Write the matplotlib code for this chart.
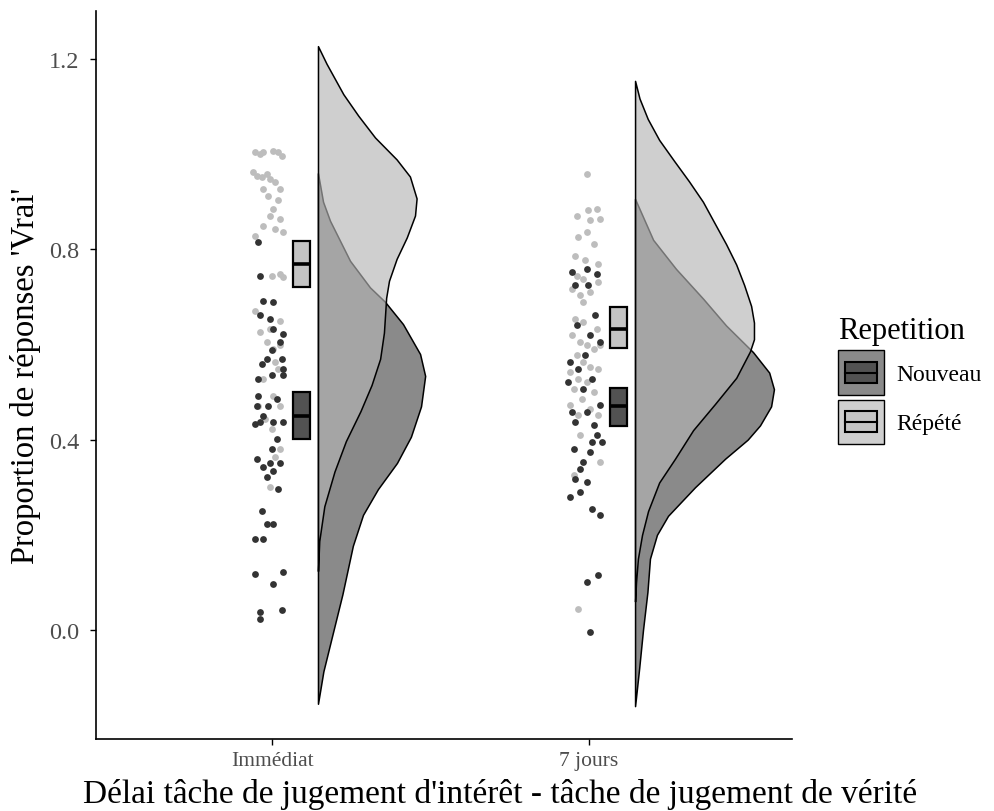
import numpy as np
import matplotlib.pyplot as plt
from matplotlib.patches import Rectangle
from matplotlib.legend_handler import HandlerBase

plt.rcParams['font.family'] = ['Liberation Serif', 'DejaVu Serif']

groupes = ['Immédiat', '7 jours']
conditions = ['Nouveau', 'Répété']

# --- points individuels (décalage horizontal, proportion 'Vrai')
imm_rep_x = [-0.054, -0.038, -0.027, 0.004, 0.020, 0.031, -0.059, -0.048, -0.033, -0.017,
             -0.006, 0.009, 0.025, -0.027, -0.012, 0.020, 0.004, -0.006, 0.025, -0.027,
             -0.054, 0.009, 0.036, -0.001, 0.025, 0.036, -0.054, 0.025, -0.006, -0.038,
             -0.017, 0.004, 0.025, 0.009, 0.020, -0.027, 0.004, -0.043, 0.025, -0.022,
             -0.001, 0.025, 0.009, -0.006]
imm_rep_y = [1.004, 1.000, 1.004, 1.007, 1.004, 0.997, 0.962, 0.955, 0.951, 0.958,
             0.948, 0.941, 0.927, 0.927, 0.913, 0.903, 0.885, 0.871, 0.864, 0.850,
             0.829, 0.843, 0.836, 0.745, 0.748, 0.741, 0.671, 0.650, 0.633, 0.626,
             0.605, 0.591, 0.598, 0.563, 0.549, 0.528, 0.492, 0.471, 0.471, 0.443,
             0.422, 0.380, 0.363, 0.300]

imm_nouv_x = [-0.043, -0.038, -0.027, 0.004, -0.038, -0.006, 0.004, 0.036, 0.025, -0.001,
              -0.017, 0.031, 0.036, -0.033, -0.001, -0.043, 0.036, -0.043, -0.048, -0.012,
              0.015, -0.027, -0.054, -0.038, 0.004, 0.036, 0.015, -0.001, -0.048, -0.006,
              -0.027, 0.025, 0.004, -0.017, 0.020, -0.033, -0.017, 0.004, -0.054, -0.027,
              -0.054, 0.036, 0.004, -0.038, -0.038, 0.031]
imm_nouv_y = [0.815, 0.745, 0.692, 0.689, 0.661, 0.654, 0.633, 0.622, 0.605, 0.588,
              0.570, 0.570, 0.549, 0.559, 0.535, 0.528, 0.535, 0.492, 0.471, 0.471,
              0.486, 0.450, 0.433, 0.437, 0.437, 0.437, 0.401, 0.380, 0.359, 0.352,
              0.342, 0.352, 0.335, 0.321, 0.296, 0.251, 0.223, 0.223, 0.191, 0.191,
              0.118, 0.121, 0.097, 0.037, 0.023, 0.041]

j7_rep_x = [-0.007, -0.039, -0.002, 0.024, 0.035, 0.003, -0.034, 0.014, -0.007, -0.044,
            -0.013, 0.029, -0.039, -0.018, 0.029, -0.055, -0.028, 0.003, -0.018, -0.044,
            -0.018, 0.024, -0.055, -0.028, -0.007, 0.014, 0.035, -0.039, -0.018, 0.003,
            -0.060, -0.034, 0.029, -0.007, -0.049, 0.014, -0.023, -0.060, 0.003, -0.034,
            0.029, -0.028, 0.035, -0.049, -0.034]
j7_rep_y = [0.958, 0.871, 0.882, 0.885, 0.864, 0.861, 0.825, 0.811, 0.836, 0.787,
            0.777, 0.769, 0.745, 0.738, 0.731, 0.717, 0.703, 0.710, 0.689, 0.654,
            0.647, 0.633, 0.619, 0.605, 0.598, 0.591, 0.598, 0.577, 0.563, 0.553,
            0.542, 0.528, 0.549, 0.521, 0.507, 0.500, 0.486, 0.472, 0.465, 0.451,
            0.451, 0.409, 0.353, 0.325, 0.044]

j7_nouv_x = [-0.055, -0.007, 0.024, -0.044, -0.002, 0.019, -0.039, 0.003, 0.035, -0.060,
             -0.013, -0.034, 0.008, -0.065, -0.018, 0.035, -0.055, -0.007, 0.014, -0.044,
             0.024, 0.008, 0.040, -0.049, 0.003, -0.018, -0.028, -0.044, -0.007, -0.028,
             -0.060, 0.008, 0.035, -0.007, 0.029, 0.003]
j7_nouv_y = [0.752, 0.759, 0.748, 0.724, 0.724, 0.661, 0.640, 0.619, 0.605, 0.563,
             0.577, 0.549, 0.528, 0.521, 0.507, 0.472, 0.458, 0.458, 0.430, 0.437,
             0.409, 0.395, 0.395, 0.381, 0.374, 0.353, 0.339, 0.318, 0.311, 0.290,
             0.279, 0.255, 0.241, 0.101, 0.115, -0.005]

# --- boites (bas, mediane, haut)
box_bas = {('Immédiat', 'Nouveau'): 0.401, ('Immédiat', 'Répété'): 0.720,
           ('7 jours', 'Nouveau'): 0.429, ('7 jours', 'Répété'): 0.592}
box_med = {('Immédiat', 'Nouveau'): 0.450, ('Immédiat', 'Répété'): 0.770,
           ('7 jours', 'Nouveau'): 0.471, ('7 jours', 'Répété'): 0.633}
box_haut = {('Immédiat', 'Nouveau'): 0.500, ('Immédiat', 'Répété'): 0.818,
            ('7 jours', 'Nouveau'): 0.508, ('7 jours', 'Répété'): 0.678}

# --- densites (demi-violons) : ordonnee et demi-largeur
imm_nouv_dy = [0.96, 0.90, 0.86, 0.776, 0.72, 0.69, 0.643, 0.58, 0.534, 0.47, 0.406,
               0.351, 0.296, 0.242, 0.177, 0.075, -0.014, -0.087, -0.155]
imm_nouv_dw = [0.0, 0.016, 0.038, 0.101, 0.164, 0.211, 0.268, 0.322, 0.338, 0.325, 0.293,
               0.249, 0.189, 0.142, 0.110, 0.077, 0.044, 0.017, 0.0]
imm_rep_dy = [1.227, 1.19, 1.126, 1.081, 1.035, 0.989, 0.953, 0.907, 0.871, 0.825, 0.78,
              0.734, 0.698, 0.625, 0.57, 0.515, 0.46, 0.397, 0.333, 0.26, 0.187, 0.124]
imm_rep_dw = [0.0, 0.027, 0.080, 0.127, 0.180, 0.248, 0.290, 0.311, 0.306, 0.280, 0.248,
              0.224, 0.215, 0.208, 0.196, 0.169, 0.134, 0.088, 0.052, 0.020, 0.004, 0.0]
j7_nouv_dy = [0.906, 0.82, 0.759, 0.696, 0.64, 0.584, 0.541, 0.506, 0.47, 0.43, 0.40,
              0.36, 0.30, 0.24, 0.20, 0.15, 0.08, 0.0, -0.08, -0.16]
j7_nouv_dw = [0.0, 0.057, 0.129, 0.215, 0.287, 0.372, 0.423, 0.438, 0.429, 0.394, 0.355,
              0.284, 0.189, 0.104, 0.069, 0.047, 0.039, 0.025, 0.013, 0.0]
j7_rep_dy = [1.154, 1.117, 1.074, 1.030, 0.986, 0.943, 0.900, 0.856, 0.811, 0.768, 0.725,
             0.681, 0.646, 0.611, 0.585, 0.53, 0.475, 0.42, 0.36, 0.31, 0.25, 0.2, 0.15,
             0.1, 0.06]
j7_rep_dw = [0.0, 0.014, 0.040, 0.076, 0.123, 0.170, 0.214, 0.250, 0.287, 0.319, 0.344,
             0.366, 0.375, 0.375, 0.362, 0.319, 0.252, 0.183, 0.126, 0.076, 0.041, 0.022,
             0.009, 0.003, 0.0]

points = {('Immédiat', 'Nouveau'): (imm_nouv_x, imm_nouv_y),
          ('Immédiat', 'Répété'): (imm_rep_x, imm_rep_y),
          ('7 jours', 'Nouveau'): (j7_nouv_x, j7_nouv_y),
          ('7 jours', 'Répété'): (j7_rep_x, j7_rep_y)}
dens = {('Immédiat', 'Nouveau'): (imm_nouv_dy, imm_nouv_dw),
        ('Immédiat', 'Répété'): (imm_rep_dy, imm_rep_dw),
        ('7 jours', 'Nouveau'): (j7_nouv_dy, j7_nouv_dw),
        ('7 jours', 'Répété'): (j7_rep_dy, j7_rep_dw)}

violon_col = {'Nouveau': (0.54, 0.54, 0.54, 1.0), 'Répété': (0.71, 0.71, 0.71, 0.64)}
point_col = {'Nouveau': '#333333', 'Répété': '#bdbdbd'}
box_col = {'Nouveau': '#525252', 'Répété': '#c4c4c4'}
legende_fond = {'Nouveau': '#8a8a8a', 'Répété': '#cfcfcf'}

fig = plt.figure(figsize=(9.95, 8.12), dpi=100)
ax = fig.add_axes([0.0965, 0.0887, 0.6995, 0.8966])

for i, g in enumerate(groupes):
    base = i + 0.145
    for k, c in enumerate(conditions):
        dy, dw = dens[(g, c)]
        ax.fill_betweenx(dy, base, base + np.array(dw), facecolor=violon_col[c],
                         edgecolor='black', lw=1.1, zorder=2 + k)
    for c in ['Répété', 'Nouveau']:
        px, py = points[(g, c)]
        ax.scatter(i + np.array(px), py, s=24, color=point_col[c], lw=0, zorder=4)
    for c in conditions:
        bas, med, haut = box_bas[(g, c)], box_med[(g, c)], box_haut[(g, c)]
        ax.bar(i + 0.093, haut - bas, bottom=bas, width=0.054, color=box_col[c],
               edgecolor='black', lw=1.6, zorder=5)
        ax.hlines(med, i + 0.066, i + 0.120, color='black', lw=2.6, zorder=6)

ax.set_xlim(-0.555, 1.640)
ax.set_ylim(-0.229, 1.301)
ax.set_xticks([0, 1], groupes)
ax.set_yticks([0, 0.4, 0.8, 1.2], ['0.0', '0.4', '0.8', '1.2'])
ax.tick_params(length=4, width=1, color='black', labelcolor='#4d4d4d')
ax.tick_params(axis='x', labelsize=15.5, pad=5)
ax.tick_params(axis='y', labelsize=17.5, pad=8)
for s in ['top', 'right']:
    ax.spines[s].set_visible(False)
for s in ['left', 'bottom']:
    ax.spines[s].set_linewidth(1.2)
ax.set_ylabel("Proportion de réponses 'Vrai'", fontsize=23.5, labelpad=6)
ax.set_xlabel("Délai tâche de jugement d'intérêt - tâche de jugement de vérité",
              fontsize=24)
ax.xaxis.set_label_coords(0.58, -0.053)


class HandlerRain(HandlerBase):
    def __init__(self, fond, boite):
        super().__init__()
        self.fond = fond
        self.boite = boite

    def create_artists(self, legend, orig_handle, xd, yd, w, h, fontsize, trans):
        x0, y0 = -xd, -yd
        fond = Rectangle((x0, y0), w, h, facecolor=self.fond, edgecolor='black',
                         lw=1.0, transform=trans)
        boite = Rectangle((x0 + 0.15 * w, y0 + 0.27 * h), 0.7 * w, 0.46 * h,
                          facecolor=self.boite, edgecolor='black', lw=1.5, transform=trans)
        ligne = plt.Line2D([x0 + 0.15 * w, x0 + 0.85 * w], [y0 + 0.5 * h] * 2,
                           color='black', lw=1.5, transform=trans)
        return [fond, boite, ligne]


handles = [Rectangle((0, 0), 1, 1) for c in conditions]
leg = ax.legend(handles, conditions, title='Repetition', loc='upper left',
                bbox_to_anchor=(0.842, 0.609), bbox_transform=fig.transFigure,
                frameon=False, fontsize=17, title_fontsize=22, handlelength=1.95,
                handleheight=2.5, labelspacing=0.21, handletextpad=0.55,
                borderpad=0, borderaxespad=0, alignment='left',
                handler_map={handles[0]: HandlerRain(legende_fond['Nouveau'], box_col['Nouveau']),
                             handles[1]: HandlerRain(legende_fond['Répété'], box_col['Répété'])})

fig.savefig('out.png', dpi=100)
